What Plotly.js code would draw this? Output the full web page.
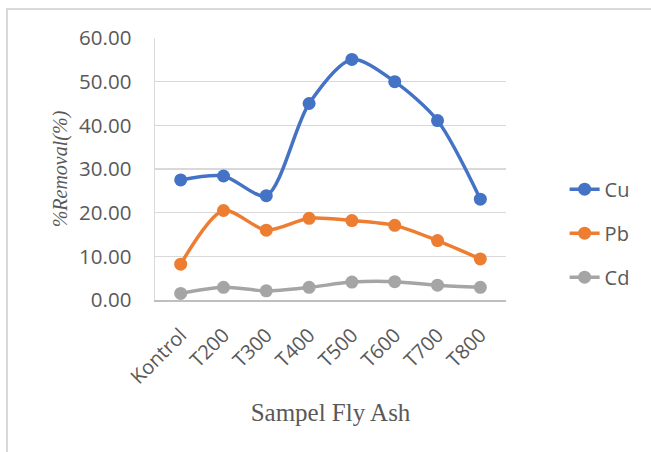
<!DOCTYPE html>
<html>
<head>
<meta charset="utf-8">
<script src="https://cdn.plot.ly/plotly-3.0.1.min.js"></script>
<style>
html,body{margin:0;padding:0;background:#fff;}
#wrap{position:relative;width:651px;height:452px;overflow:hidden;}
#chart{width:651px;height:452px;}
#frame{position:absolute;left:6px;top:8px;width:700px;height:500px;border-left:2px solid #d9d9d9;border-top:2px solid #d9d9d9;pointer-events:none;}
</style>
</head>
<body>
<div id="wrap"><div id="chart"></div><div id="frame"></div></div>
<script>
const categories = ["Kontrol","T200","T300","T400","T500","T600","T700","T800"];
const cu = [27.5, 28.4, 23.9, 45.0, 55.1, 50.0, 41.1, 23.1];
const pb = [8.2, 20.5, 16.0, 18.7, 18.2, 17.1, 13.6, 9.4];
const cd = [1.5, 2.9, 2.1, 2.9, 4.1, 4.2, 3.4, 2.9];
const yTicks = [0, 10, 20, 30, 40, 50, 60];

function tr(name, y, color, group){
  return {
    type: "scatter", mode: "lines+markers", name: name, x: categories, y: y,
    legendgroup: group,
    line: {color: color, width: 3.5, shape: "spline", smoothing: 0.8},
    marker: {color: color, size: 13}
  };
}
const data = [tr("Cu", cu, "#4472C4", "a"), tr("Pb", pb, "#ED7D31", "b"), tr("Cd", cd, "#A5A5A5", "c")];

const layout = {
  width: 651, height: 452,
  margin: {l: 155, r: 145, t: 38, b: 152},
  paper_bgcolor: "#fff", plot_bgcolor: "#fff",
  showlegend: true,
  legend: {x: 1.167, xanchor: "left", y: 0.255, yanchor: "middle", tracegroupgap: 15,
           font: {family: "Open Sans", size: 20, color: "#595959"}, bgcolor: "rgba(0,0,0,0)"},
  xaxis: {
    type: "category", tickangle: -45, ticks: "", showgrid: false,
    showline: true, linecolor: "#bfbfbf", linewidth: 1.5, ticklabelstandoff: 14,
    tickfont: {family: "Open Sans", size: 20, color: "#595959"},
    title: {text: "Sampel Fly Ash", standoff: 15, font: {family: "Liberation Serif", size: 25, color: "#595959"}},
    automargin: false
  },
  yaxis: {
    range: [0, 60], tickvals: yTicks, tickformat: ".2f", showgrid: true, gridcolor: "#d9d9d9", gridwidth: 1.5,
    zeroline: false, showline: true, linecolor: "#d9d9d9", linewidth: 1.5, ticks: "outside", ticklen: 18, tickcolor: "rgba(0,0,0,0)",
    tickfont: {family: "Open Sans", size: 20.5, color: "#595959"},
    title: {text: "%Removal(%)", standoff: 6, font: {family: "Liberation Serif, Times New Roman, serif", style: "italic", size: 20, color: "#595959"}},
    automargin: false
  }
};
Plotly.newPlot("chart", data, layout, {displayModeBar: false, staticPlot: true});
</script>
</body>
</html>
